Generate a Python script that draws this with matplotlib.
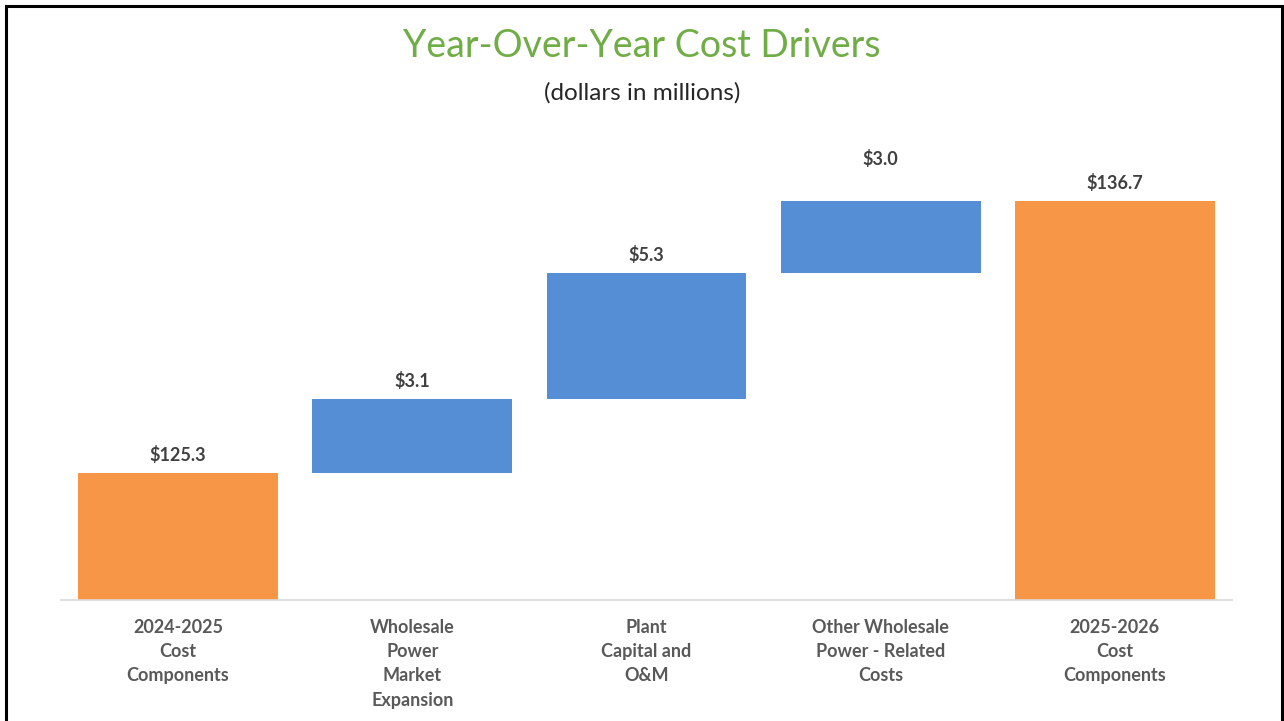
import matplotlib
matplotlib.use("Agg")
import matplotlib.pyplot as plt
from matplotlib.patches import Rectangle

categories = ["2024-2025\nCost\nComponents", "Wholesale\nPower\nMarket\nExpansion",
              "Plant\nCapital and\nO&M", "Other Wholesale\nPower - Related\nCosts",
              "2025-2026\nCost\nComponents"]
start_total = 125.3
changes = [3.1, 5.3, 3.0]
end_total = 136.7
labels = ["$125.3", "$3.1", "$5.3", "$3.0", "$136.7"]

plt.rcParams['font.family'] = ['Lato', 'DejaVu Sans']

fig = plt.figure(figsize=(12.84, 7.21), dpi=100)
ax = fig.add_axes([0.0475, 0.1678, 0.912, 0.663])
y0 = 120
orange = "#F79646"
blue = "#558ED5"
w = 0.853

bottoms = [y0]
heights = [start_total - y0]
cum = start_total
for c in changes:
    bottoms.append(cum)
    heights.append(c)
    cum += c
bottoms.append(y0)
heights.append(end_total - y0)
colors = [orange, blue, blue, blue, orange]
x = list(range(len(categories)))
ax.bar(x, heights, bottom=bottoms, width=w, color=colors, edgecolor='none')
label_offsets = [6.5, 6.5, 6.5, 24, 6.5]
for xi, b, h, lab, off in zip(x, bottoms, heights, labels, label_offsets):
    ax.annotate(lab, (xi, b + h), xytext=(0, off), textcoords='offset points',
                ha='center', va='bottom', fontsize=13, fontweight='bold', color='#404040')

ax.set_xlim(-0.5, 4.5)
ax.set_ylim(y0, 140)
ax.set_yticks([])
ax.set_xticks(x)
ax.set_xticklabels(categories, fontsize=13, fontweight='bold', color='#595959', linespacing=1.52)
ax.tick_params(axis='x', length=0, pad=13.5)
for s in ['top', 'right', 'left']:
    ax.spines[s].set_visible(False)
ax.spines['bottom'].set_color('#D9D9D9')
ax.spines['bottom'].set_linewidth(1.2)

fig.text(0.5, 1 - 46/721, "Year-Over-Year Cost Drivers", ha='center', va='center',
         fontsize=27, color='#70AD47')
fig.text(0.5, 1 - 93/721, "(dollars in millions)", ha='center', va='center',
         fontsize=17.5, color='#262626')

fig.patches.append(Rectangle((6/1284, -0.05), (1282-6)/1284, 1 - 6/721 + 0.05,
                             transform=fig.transFigure, fill=False, edgecolor='black',
                             linewidth=2.2, figure=fig))
fig.savefig("out.png", dpi=100, facecolor='white')
